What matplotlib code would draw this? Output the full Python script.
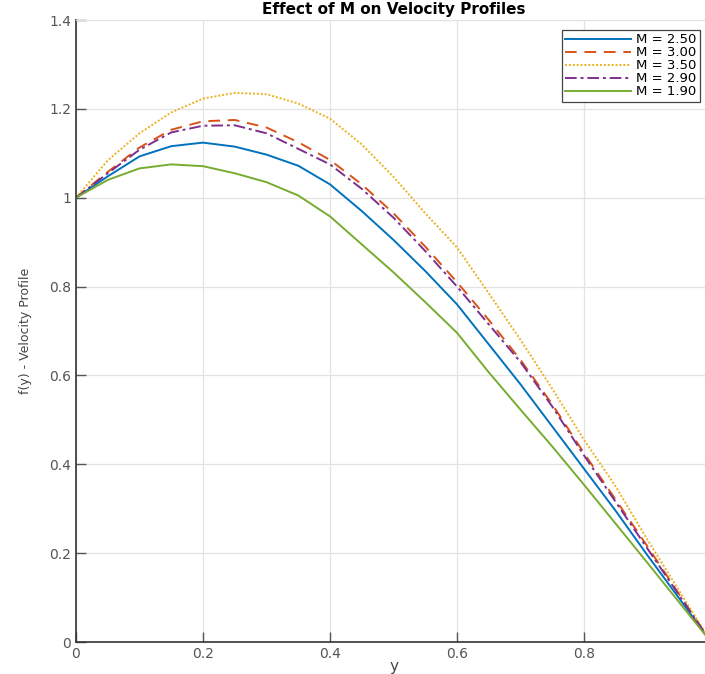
import matplotlib.pyplot as plt
import numpy as np

# y 座標（橫軸）
y = np.array([0, 0.05, 0.1, 0.15, 0.2, 0.25, 0.3, 0.35, 0.4, 0.45, 0.5,
              0.55, 0.6, 0.65, 0.7, 0.75, 0.8, 0.85, 0.9, 0.95, 1.0])

# 各 M 值的速度分佈
f_m250 = [1.0, 1.048, 1.093, 1.116, 1.124, 1.115, 1.097, 1.072, 1.030, 0.970, 0.905,
          0.835, 0.760, 0.670, 0.580, 0.485, 0.390, 0.295, 0.195, 0.098, 0.0]
f_m300 = [1.0, 1.058, 1.113, 1.153, 1.172, 1.175, 1.158, 1.125, 1.085, 1.030, 0.965,
          0.890, 0.810, 0.725, 0.635, 0.535, 0.425, 0.320, 0.215, 0.107, 0.0]
f_m350 = [1.0, 1.084, 1.145, 1.192, 1.223, 1.236, 1.233, 1.212, 1.178, 1.120, 1.047,
          0.965, 0.888, 0.785, 0.680, 0.570, 0.455, 0.350, 0.230, 0.115, 0.0]
f_m290 = [1.0, 1.055, 1.108, 1.147, 1.162, 1.163, 1.145, 1.110, 1.075, 1.020, 0.955,
          0.880, 0.800, 0.715, 0.630, 0.530, 0.420, 0.315, 0.210, 0.105, 0.0]
f_m190 = [1.0, 1.040, 1.066, 1.075, 1.071, 1.055, 1.035, 1.005, 0.958, 0.895, 0.832,
          0.765, 0.696, 0.607, 0.523, 0.440, 0.354, 0.266, 0.178, 0.089, 0.0]

labels = ['M = 2.50', 'M = 3.00', 'M = 3.50', 'M = 2.90', 'M = 1.90']
series = [f_m250, f_m300, f_m350, f_m290, f_m190]
colors = ['#0072BD', '#D95319', '#EDB120', '#7E2F8E', '#77AC30']
styles = ['-', (0, (6, 4)), (0, (1, 1)), (0, (6, 2, 1.5, 2)), '-']

# x 軸刻度（1 落在圖片右緣外，不顯示）
xticks = [0, 0.2, 0.4, 0.6, 0.8, 1.0]
xticklabels = ['0', '0.2', '0.4', '0.6', '0.8', '']
yticks = [0, 0.2, 0.4, 0.6, 0.8, 1.0, 1.2, 1.4]
yticklabels = ['0', '0.2', '0.4', '0.6', '0.8', '1', '1.2', '1.4']

fig = plt.figure(figsize=(7.05, 6.74), dpi=100)
ax = fig.add_axes([76 / 705, 32 / 674, 635 / 705, 622 / 674])

for vals, lab, c, ls in zip(series, labels, colors, styles):
    ax.plot(y, vals, color=c, linestyle=ls, linewidth=1.4, label=lab)

ax.set_xlim(0, 1)
ax.set_ylim(0, 1.4)
ax.set_xticks(xticks)
ax.set_xticklabels(xticklabels)
ax.set_yticks(yticks)
ax.set_yticklabels(yticklabels)

ax.grid(True, color='#e3e3e3', linewidth=0.9)
ax.set_axisbelow(True)
ax.tick_params(direction='in', length=7, width=1, colors='#555555', labelsize=10)
for side in ['left', 'bottom']:
    ax.spines[side].set_color('#333333')
    ax.spines[side].set_linewidth(1.2)
ax.spines['top'].set_color('#e3e3e3')
ax.spines['right'].set_color('#e3e3e3')

ax.set_title('Effect of M on Velocity Profiles', fontsize=11, fontweight='bold', pad=4)
ax.set_xlabel('y', fontsize=11, color='#444444', labelpad=-1)
ax.set_ylabel('f(y) - Velocity Profile', fontsize=9, color='#444444', labelpad=12)

leg = ax.legend(loc='upper right', bbox_to_anchor=(700 / 705, 1 - 30 / 674),
                bbox_transform=fig.transFigure, borderaxespad=0, fontsize=9.5,
                handlelength=5, handletextpad=0.4, labelspacing=0.0,
                borderpad=0.25, fancybox=False, framealpha=1)
leg.get_frame().set_edgecolor('#444444')
leg.get_frame().set_linewidth(0.9)

plt.savefig('out.png', dpi=100)
